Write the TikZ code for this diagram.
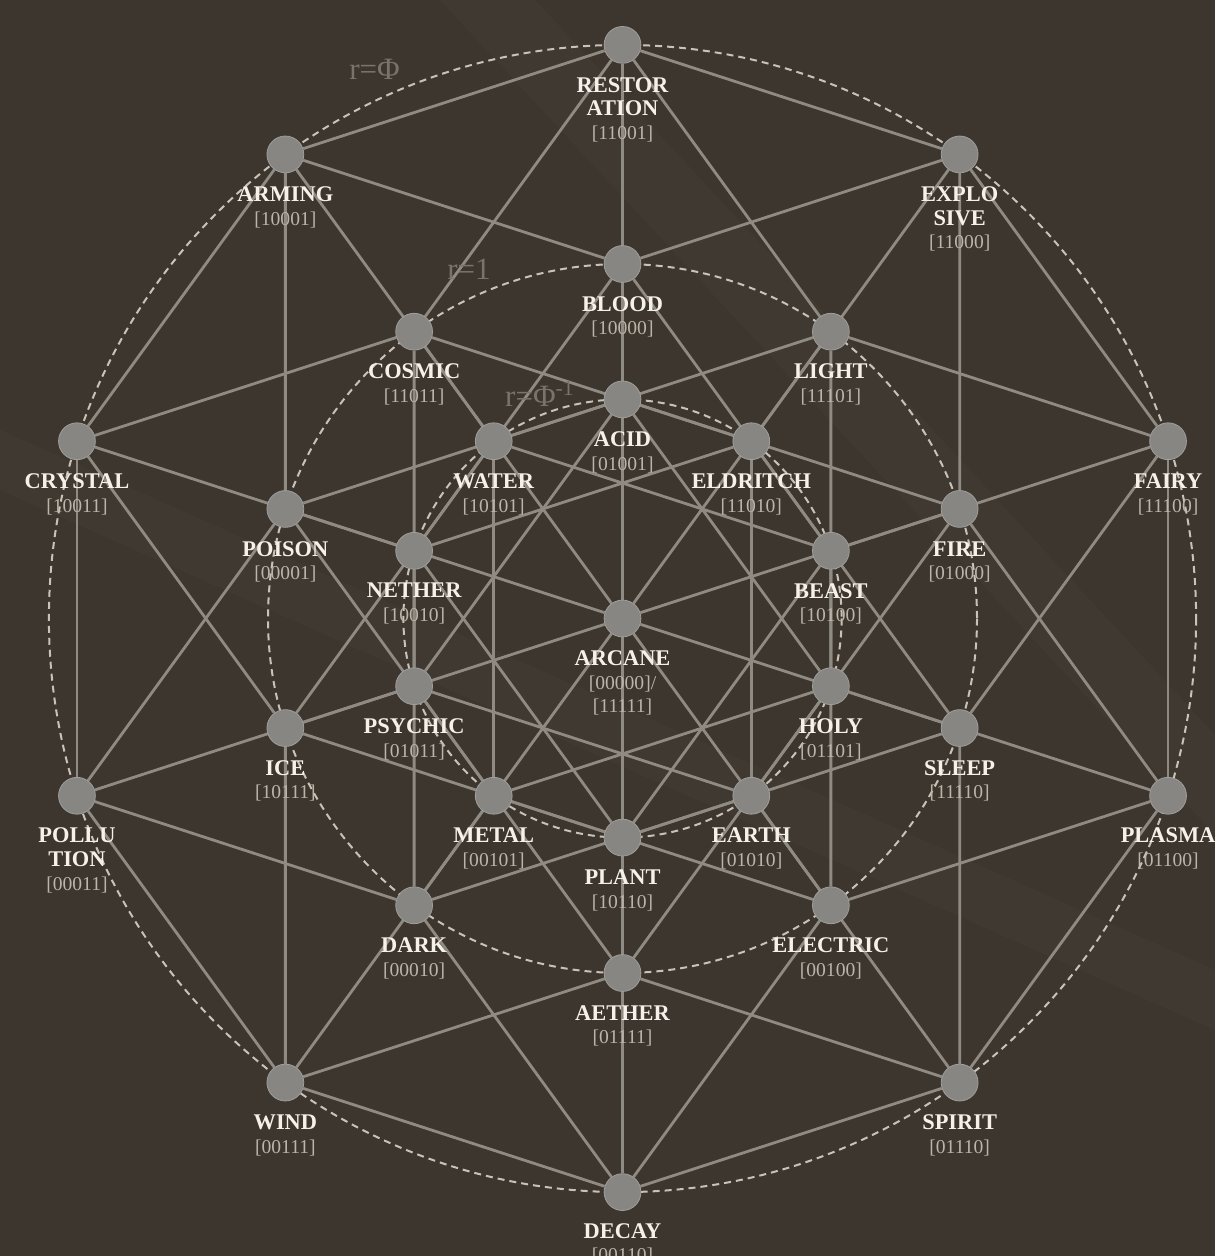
\documentclass[tikz,border=0pt]{standalone}
\usepackage{fontspec}
\setmainfont{Liberation Serif}
\usetikzlibrary{calc}
\pgfdeclarelayer{back}
\pgfdeclarelayer{bg}
\pgfsetlayers{back,bg,main}
\definecolor{bgc}{HTML}{3D362E}
\definecolor{edgec}{HTML}{8F8A82}
\definecolor{ringc}{HTML}{C8C2B8}
\definecolor{dotc}{HTML}{878682}
\definecolor{namec}{HTML}{F5F1EA}
\definecolor{codec}{HTML}{BAB4AB}
\definecolor{rlabc}{HTML}{7A736A}
\newcommand\codef{\fontsize{9.8}{11.8}\selectfont\mdseries\color{codec}}
\begin{document}
\begin{tikzpicture}[x=0.5pt,y=-0.5pt,
  vtx/.style={circle,fill=dotc,draw=dotc!80!white,line width=0.4pt,minimum size=18.4pt,inner sep=0pt},
  lab/.style={anchor=north,align=center,inner sep=0pt,text=namec,font=\fontsize{11.2}{11.8}\selectfont\bfseries},
  edge/.style={draw=edgec,line width=1.4pt},
  ring/.style={draw=ringc,line width=1pt,dash pattern=on 3.5pt off 2.5pt},
  rlab/.style={text=rlabc,font=\fontsize{15.5}{17}\selectfont,inner sep=0pt}
]
\useasboundingbox (0,0) rectangle (1215,1256);
\begin{pgfonlayer}{back}
  \fill[bgc] (0,0) rectangle (1215,1256);
  \fill[white,opacity=0.016] (440,0) -- (535,0) -- (1215,735) -- (1215,835) -- cycle;
  \fill[white,opacity=0.014] (0,430) -- (0,490) -- (1215,1030) -- (1215,970) -- cycle;
\end{pgfonlayer}
\coordinate (c) at (622.5,618.5);
% outer ring r = Phi
\foreach \n/\k in {res/0,exp/1,fai/2,pls/3,spi/4,dec/5,win/6,pol/7,cry/8,arm/9}
  \node[vtx] (\n) at ({622.5+573.6*sin(36*\k)},{618.5-573.6*cos(36*\k)}) {};
% middle ring r = 1
\foreach \n/\k in {blo/0,lig/1,fir/2,sle/3,ele/4,aet/5,dar/6,ice/7,poi/8,cos/9}
  \node[vtx] (\n) at ({622.5+354.5*sin(36*\k)},{618.5-354.5*cos(36*\k)}) {};
% inner ring r = 1/Phi
\foreach \n/\k in {aci/0,eld/1,bea/2,hol/3,ear/4,pln/5,met/6,psy/7,net/8,wat/9}
  \node[vtx] (\n) at ({622.5+219.1*sin(36*\k)},{618.5-219.1*cos(36*\k)}) {};
\node[vtx] (arc) at (c) {};
\begin{pgfonlayer}{bg}
  \draw[ring] (c) circle[radius=573.6];
  \draw[ring] (c) circle[radius=354.5];
  \draw[ring] (c) circle[radius=219.1];
  \foreach \a/\b in {arc/poi,arc/dar,arc/ele,arc/fir,arc/blo,arc/sle,arc/lig,arc/cos,arc/ice,arc/aet,
    poi/pol,poi/met,poi/aci,poi/arm,
    dar/pol,dar/dec,dar/ear,dar/net,
    pol/win,pol/psy,pol/cry,
    ele/met,ele/dec,ele/pls,ele/bea,
    met/win,met/hol,met/wat,
    dec/win,dec/spi,dec/pln,
    win/aet,win/ice,
    fir/aci,fir/ear,fir/pls,fir/exp,
    aci/psy,aci/hol,aci/res,
    ear/psy,ear/spi,ear/eld,
    psy/aet,psy/cos,
    pls/hol,pls/spi,pls/fai,
    hol/aet,hol/lig,
    spi/aet,spi/sle,
    blo/arm,blo/net,blo/bea,blo/exp,
    arm/cry,arm/wat,arm/res,
    net/cry,net/pln,net/eld,
    cry/ice,cry/cos,
    bea/wat,bea/pln,bea/fai,
    wat/ice,wat/lig,
    pln/ice,pln/sle,
    exp/res,exp/eld,exp/fai,
    res/cos,res/lig,
    eld/cos,eld/sle,
    fai/lig,fai/sle}
    \draw[edge] (\a) -- (\b);
\end{pgfonlayer}
% radius labels
\node[rlab] (rphi) at (374.5,69) {r=Φ};
\node[rlab] (rone) at (469,269) {r=1};
\node[rlab] (rinv) at (540,394) {r=Φ\textsuperscript{-1}};
% labels
\node[lab] (resL) at ($(res)+(0,32)$) {RESTOR\\ATION\\{\codef [11001]}};
\node[lab] (expL) at ($(exp)+(0,32)$) {EXPLO\\SIVE\\{\codef [11000]}};
\node[lab] (faiL) at ($(fai)+(0,32)$) {FAIRY\\{\codef [11100]}};
\node[lab] (plsL) at ($(pls)+(0,32)$) {PLASMA\\{\codef [01100]}};
\node[lab] (spiL) at ($(spi)+(0,32)$) {SPIRIT\\{\codef [01110]}};
\node[lab] (decL) at ($(dec)+(0,31)$) {DECAY\\{\codef [00110]}};
\node[lab] (winL) at ($(win)+(0,32)$) {WIND\\{\codef [00111]}};
\node[lab] (polL) at ($(pol)+(0,32)$) {POLLU\\TION\\{\codef [00011]}};
\node[lab] (cryL) at ($(cry)+(0,32)$) {CRYSTAL\\{\codef [10011]}};
\node[lab] (armL) at ($(arm)+(0,32)$) {ARMING\\{\codef [10001]}};
\node[lab] (bloL) at ($(blo)+(0,32)$) {BLOOD\\{\codef [10000]}};
\node[lab] (ligL) at ($(lig)+(0,32)$) {LIGHT\\{\codef [11101]}};
\node[lab] (firL) at ($(fir)+(0,32)$) {FIRE\\{\codef [01000]}};
\node[lab] (sleL) at ($(sle)+(0,32)$) {SLEEP\\{\codef [11110]}};
\node[lab] (eleL) at ($(ele)+(0,32)$) {ELECTRIC\\{\codef [00100]}};
\node[lab] (aetL) at ($(aet)+(0,32)$) {AETHER\\{\codef [01111]}};
\node[lab] (darL) at ($(dar)+(0,32)$) {DARK\\{\codef [00010]}};
\node[lab] (iceL) at ($(ice)+(0,32)$) {ICE\\{\codef [10111]}};
\node[lab] (poiL) at ($(poi)+(0,32)$) {POISON\\{\codef [00001]}};
\node[lab] (cosL) at ($(cos)+(0,32)$) {COSMIC\\{\codef [11011]}};
\node[lab] (aciL) at ($(aci)+(0,32)$) {ACID\\{\codef [01001]}};
\node[lab] (eldL) at ($(eld)+(0,32)$) {ELDRITCH\\{\codef [11010]}};
\node[lab] (beaL) at ($(bea)+(0,32)$) {BEAST\\{\codef [10100]}};
\node[lab] (holL) at ($(hol)+(0,32)$) {HOLY\\{\codef [01101]}};
\node[lab] (earL) at ($(ear)+(0,32)$) {EARTH\\{\codef [01010]}};
\node[lab] (plnL) at ($(pln)+(0,32)$) {PLANT\\{\codef [10110]}};
\node[lab] (metL) at ($(met)+(0,32)$) {METAL\\{\codef [00101]}};
\node[lab] (psyL) at ($(psy)+(0,32)$) {PSYCHIC\\{\codef [01011]}};
\node[lab] (netL) at ($(net)+(0,32)$) {NETHER\\{\codef [10010]}};
\node[lab] (watL) at ($(wat)+(0,32)$) {WATER\\{\codef [10101]}};
\node[lab] (arcL) at ($(arc)+(0,32)$) {ARCANE\\{\codef [00000]/}\\{\codef [11111]}};
\end{tikzpicture}
\end{document}
